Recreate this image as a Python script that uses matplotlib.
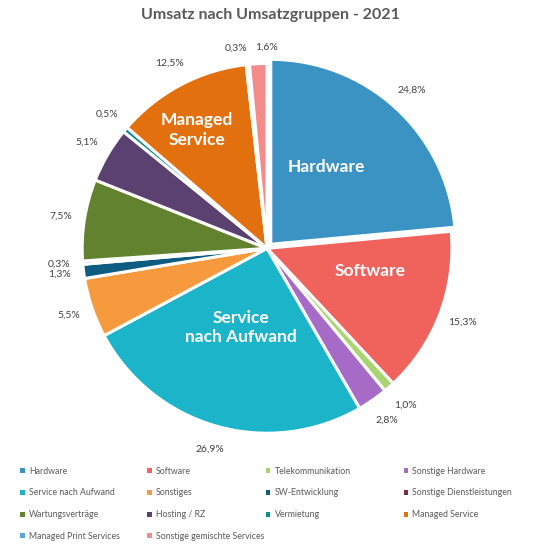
import matplotlib as m
m.use("Agg")
import matplotlib.pyplot as plt
from matplotlib.patches import Patch

# Umsatz nach Umsatzgruppen 2021 - pie chart with outside percent labels

categories = ["Hardware", "Software", "Telekommunikation", "Sonstige Hardware",
              "Service nach Aufwand", "Sonstiges", "SW-Entwicklung",
              "Sonstige Dienstleistungen", "Wartungsverträge", "Hosting / RZ",
              "Vermietung", "Managed Service", "Managed Print Services",
              "Sonstige gemischte Services"]
shares = [24.8, 15.3, 1.0, 2.8, 26.9, 5.5, 1.3, 0.3, 7.5, 5.1, 0.5, 12.5, 0.3, 1.6]
colors = ["#3A93C3", "#F0625C", "#A9D46F", "#A56BC6", "#1BB4C8", "#F79A3E",
          "#0E5C82", "#7B2C3F", "#62822F", "#5B4170", "#0F8C8C", "#E3700F",
          "#5BA7D8", "#F48B8B"]
# big white labels drawn inside some wedges (text position in pie units)
inner_labels = {"Hardware": ("Hardware", 0.32, 0.44),
                "Software": ("Software", 0.56, -0.12),
                "Service nach Aufwand": ("Service\nnach Aufwand", -0.14, -0.43),
                "Managed Service": ("Managed\nService", -0.38, 0.64)}
# small nudges for crowded percent labels (pie units)
label_nudge = {"Managed Print Services": (-0.05, -0.04),
               "Sonstige gemischte Services": (0.05, -0.04)}

plt.rcParams['font.family'] = ['Lato', 'DejaVu Sans']

fig = plt.figure(figsize=(5.4, 5.47), dpi=100)
ax = fig.add_axes([0.152, 0.208, 0.685, 0.676])

explode = [0.03 if c == "Hardware" else 0 for c in categories]

def fmt(v):
  return ("%.1f%%" % v).replace(".", ",")

wedges, texts = ax.pie(shares, colors=colors, startangle=90, counterclock=False,
                       explode=explode, labels=[fmt(v) for v in shares],
                       labeldistance=1.13,
                       wedgeprops=dict(edgecolor="white", linewidth=2.2),
                       textprops=dict(fontsize=7.5, color="#404040"))
ax.set_xlim(-1, 1)
ax.set_ylim(-1, 1)
ax.set_aspect("equal")

for c, t in zip(categories, texts):
  t.set_ha("center")
  t.set_va("center")
  if c in label_nudge:
    x, y = t.get_position()
    dx, dy = label_nudge[c]
    t.set_position((x + dx, y + dy))

for c, (txt, x, y) in inner_labels.items():
  ax.text(x, y, txt, ha="center", va="center", color="white",
          fontsize=12.5, fontweight="bold", linespacing=1.25)

fig.text(0.5, 0.972, "Umsatz nach Umsatzgruppen - 2021", ha="center", va="center",
         fontsize=11.5, fontweight="bold", color="#595959")

# legend: 4 columns, row-wise order
colX = [0.031, 0.266, 0.486, 0.741]
for j in range(4):
  idx = list(range(j, len(categories), 4))
  handles = [Patch(facecolor=colors[i], edgecolor="none") for i in idx]
  fig.legend(handles, [categories[i] for i in idx], loc="upper left",
             bbox_to_anchor=(colX[j], 0.153), frameon=False, fontsize=6.3,
             handlelength=0.5, handleheight=0.5, handletextpad=0.5,
             labelspacing=1.45, borderaxespad=0, labelcolor="#595959")

plt.savefig("out.png", dpi=100)
